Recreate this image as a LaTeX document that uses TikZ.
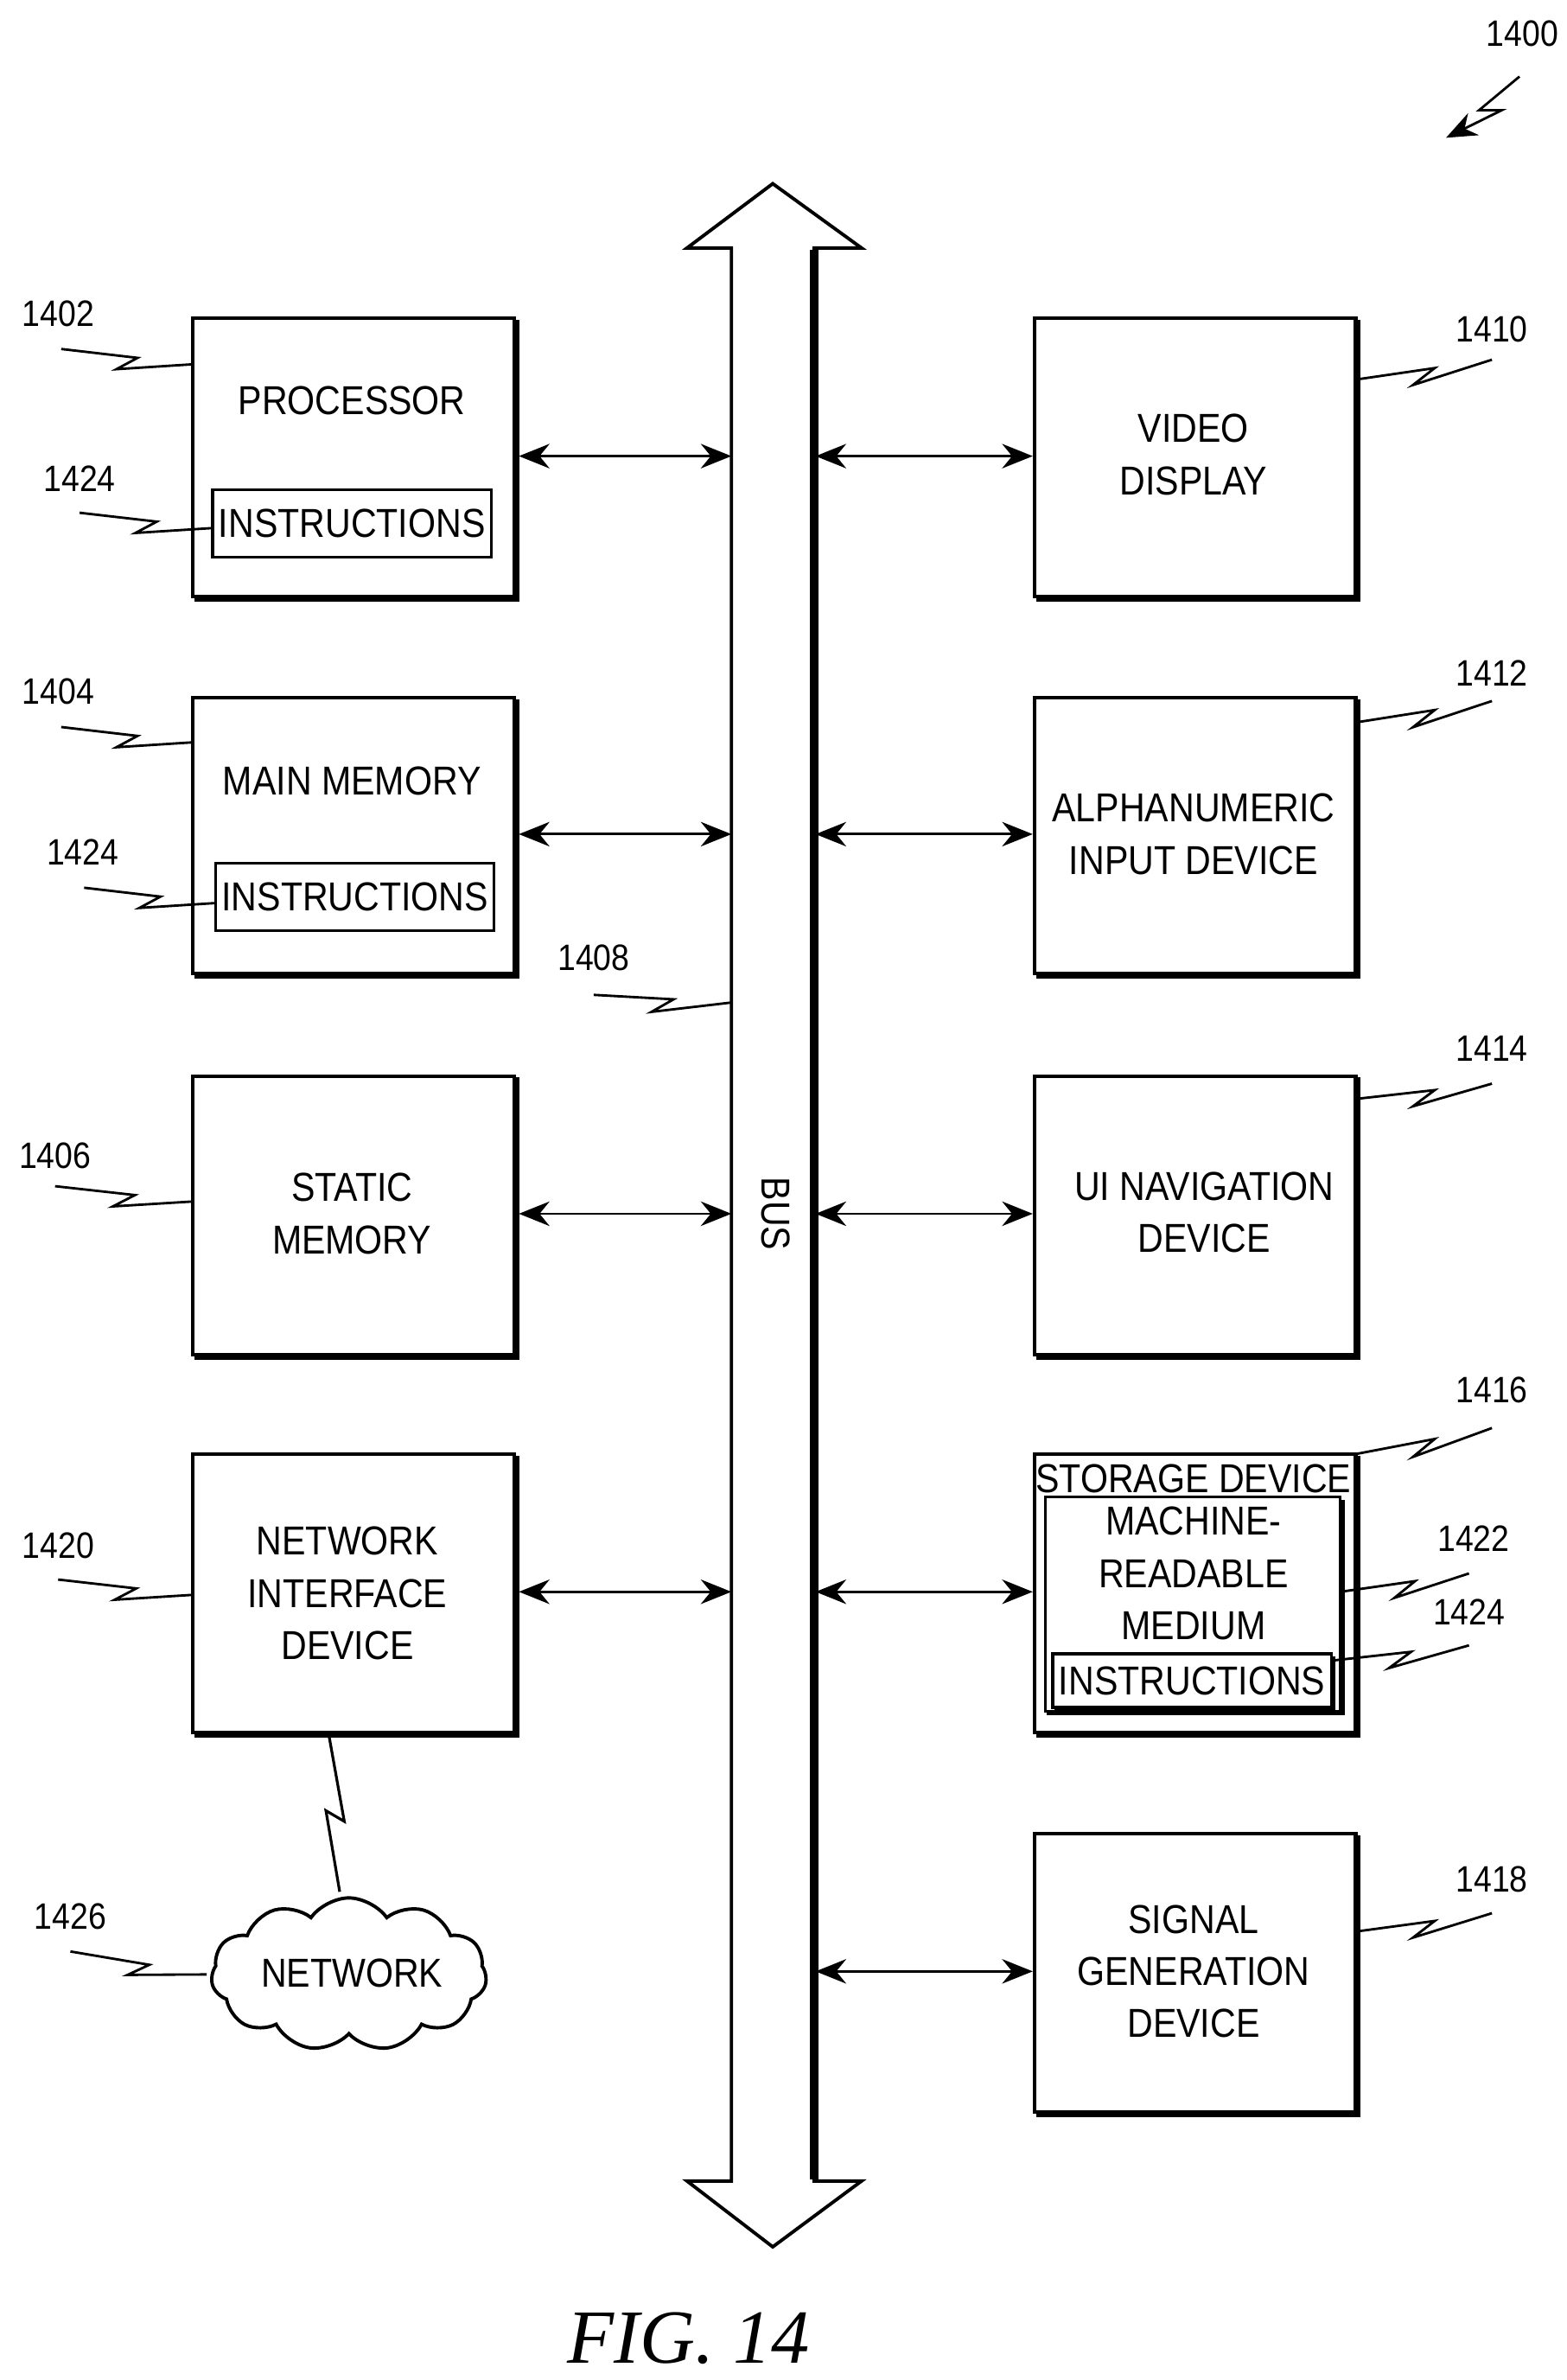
\documentclass[tikz,border=0pt]{standalone}
\usepackage{fontspec}
\setmainfont{Liberation Sans}[FakeStretch=0.88]
\newfontfamily\figfont{Liberation Serif}
\usetikzlibrary{arrows.meta,calc,shapes.symbols}
\begin{document}
\begin{tikzpicture}[x=0.5pt,y=-0.5pt,
  box/.style={draw,line width=1.1pt,minimum width=105pt,minimum height=91pt,inner sep=0pt},
  ibox/.style={draw,line width=0.9pt,inner sep=0pt},
  txt/.style={font=\fontsize{13.2}{17}\selectfont,align=center,inner sep=0pt},
  lab/.style={font=\fontsize{12}{13}\selectfont,inner sep=0pt},
  bi/.style={{Stealth[length=10pt,width=8pt]}-{Stealth[length=10pt,width=8pt]},line width=0.8pt}]
\useasboundingbox (0,0) rectangle (1024,1555);
\newcommand{\shbox}[5]{% name, x1,y1,x2,y2
  \node[box] (#1) at ({(#2+#4)/2},{(#3+#5)/2}) [minimum width={(#4-#2)*0.5pt},minimum height={(#5-#3)*0.5pt}] {};
  \draw[line width=2.2pt] (#4+1,#3+1) -- (#4+1,#5+1) -- (#2+1,#5+1);}
\newcommand{\zz}[2]{\draw[line width=0.8pt] (#1) -- ($(#1)!.58!(#2)$) -- ($(#1)!.42!(#2)+(0,9)$) -- (#2);}
% bus
\draw[line width=1.1pt,fill=white] (478,162) -- (449,162) -- (505,120) -- (563,162) -- (532,162) -- (532,1425) -- (563,1425) -- (505,1468) -- (449,1425) -- (478,1425) -- cycle;
\draw[line width=3pt] (532,163) -- (532,1424);
\node[txt,rotate=-90] (bus) at (507,793) {BUS};
% left boxes
\shbox{proc}{126}{208}{336}{390}
\shbox{mem}{126}{456}{336}{636}
\shbox{stat}{126}{703}{336}{885}
\shbox{nic}{126}{950}{336}{1132}
\node[txt] (proct) at (230,262) {PROCESSOR};
\node[ibox,minimum width=91pt,minimum height=22pt] (pins) at (230,342) {};
\node[txt] at (pins) {INSTRUCTIONS};
\node[txt] (memt) at (230,510) {MAIN MEMORY};
\node[ibox,minimum width=91pt,minimum height=22pt] (mins) at (232,586) {};
\node[txt] at (mins) {INSTRUCTIONS};
\node[txt] (statt) at (230,793) {STATIC\\MEMORY};
\node[txt] (nict) at (227,1041) {NETWORK\\INTERFACE\\DEVICE};
% right boxes
\shbox{vid}{676}{208}{886}{390}
\shbox{alp}{676}{456}{886}{636}
\shbox{ui}{676}{703}{886}{885}
\shbox{sto}{676}{950}{886}{1132}
\shbox{sig}{676}{1198}{886}{1380}
\node[txt] (vidt) at (780,297) {VIDEO\\DISPLAY};
\node[txt] (alpt) at (780,545) {ALPHANUMERIC\\INPUT DEVICE};
\node[txt] (uit) at (787,792) {UI NAVIGATION\\DEVICE};
\node[txt] (sigt) at (780,1288) {SIGNAL\\GENERATION\\DEVICE};
\node[txt] (stot) at (780,966) {STORAGE DEVICE};
\node[ibox,minimum width=96.5pt,minimum height=70pt] (mrm) at (779.5,1048) {};
\draw[line width=1.8pt] (877,980) -- (877,1119) -- (684,1119);
\node[txt] (mrmt) at (780,1028) {MACHINE-\\READABLE\\MEDIUM};
\node[ibox,minimum width=91pt,minimum height=17.5pt] (sins) at (779,1098) {};
\draw[line width=1.5pt] (871,1082) -- (871,1116) -- (689,1116);
\node[txt] at (sins) {INSTRUCTIONS};
% bus arrows
\foreach \n/\y in {proc/298,mem/545,stat/793,nic/1040}{
  \coordinate (b\n) at (478,\y);
  \draw[bi] (\n.east |- b\n) ++(2,0) -- (b\n);}
\foreach \n/\y in {vid/298,alp/545,ui/793,sto/1040,sig/1288}{
  \coordinate (b\n) at (533,\y);
  \draw[bi] (b\n) -- (\n.west |- b\n);}
% network
\node[cloud,draw,line width=1.1pt,cloud puffs=11,cloud puff arc=110,aspect=1.9,minimum width=90pt,minimum height=50pt,inner sep=0pt] (net) at (228,1290) {};
\node[txt] (nett) at (230,1289) {NETWORK};
\draw[line width=0.9pt] (215,1134) -- (225,1190) -- (213,1183) -- (222,1236);
% labels and leaders
\node[lab] (l1402) at (38,205) {1402}; \coordinate (a1) at (40,228); \coordinate (e1) at (126,238); \zz{a1}{e1}
\node[lab] (l1424a) at (52,313) {1424}; \coordinate (a2) at (52,335); \coordinate (e2) at (139,345); \zz{a2}{e2}
\node[lab] (l1410) at (975,215) {1410}; \coordinate (a3) at (886,248); \coordinate (e3) at (975,235); \zz{a3}{e3}
\node[lab] (l1404) at (38,452) {1404}; \coordinate (a4) at (40,475); \coordinate (e4) at (126,485); \zz{a4}{e4}
\node[lab] (l1424b) at (54,557) {1424}; \coordinate (a5) at (55,580); \coordinate (e5) at (141,590); \zz{a5}{e5}
\node[lab] (l1412) at (975,440) {1412}; \coordinate (a6) at (886,472); \coordinate (e6) at (975,458); \zz{a6}{e6}
\node[lab] (l1408) at (388,626) {1408}; \coordinate (a7) at (388,650); \coordinate (e7) at (478,655); \zz{a7}{e7}
\node[lab] (l1406) at (36,755) {1406}; \coordinate (a8) at (36,775); \coordinate (e8) at (126,785); \zz{a8}{e8}
\node[lab] (l1414) at (975,685) {1414}; \coordinate (a9) at (886,718); \coordinate (e9) at (975,708); \zz{a9}{e9}
\node[lab] (l1416) at (975,908) {1416}; \coordinate (a10) at (886,950); \coordinate (e10) at (975,933); \zz{a10}{e10}
\node[lab] (l1422) at (963,1005) {1422}; \coordinate (a11) at (876,1040); \coordinate (e11) at (960,1028); \zz{a11}{e11}
\node[lab] (l1424c) at (960,1053) {1424}; \coordinate (a12) at (870,1085); \coordinate (e12) at (960,1075); \zz{a12}{e12}
\node[lab] (l1420) at (38,1010) {1420}; \coordinate (a13) at (38,1032); \coordinate (e13) at (126,1042); \zz{a13}{e13}
\node[lab] (l1426) at (46,1252) {1426}; \coordinate (a14) at (46,1275); \coordinate (e14) at (135,1290); \zz{a14}{e14}
\node[lab] (l1418) at (975,1228) {1418}; \coordinate (a15) at (886,1262); \coordinate (e15) at (975,1250); \zz{a15}{e15}
\node[lab] (l1400) at (995,22) {1400};
\coordinate (a16) at (993,50); \coordinate (e16) at (945,90);
\draw[line width=0.8pt,-{Stealth[length=10pt,width=8pt]}] (a16) -- ($(a16)!.55!(e16)$) -- ($(a16)!.45!(e16)+(10,4)$) -- (e16);
\node[font=\fontsize{25}{30}\selectfont\figfont\itshape,inner sep=0pt] (fig) at (450,1528) {FIG. 14};
\end{tikzpicture}
\end{document}
